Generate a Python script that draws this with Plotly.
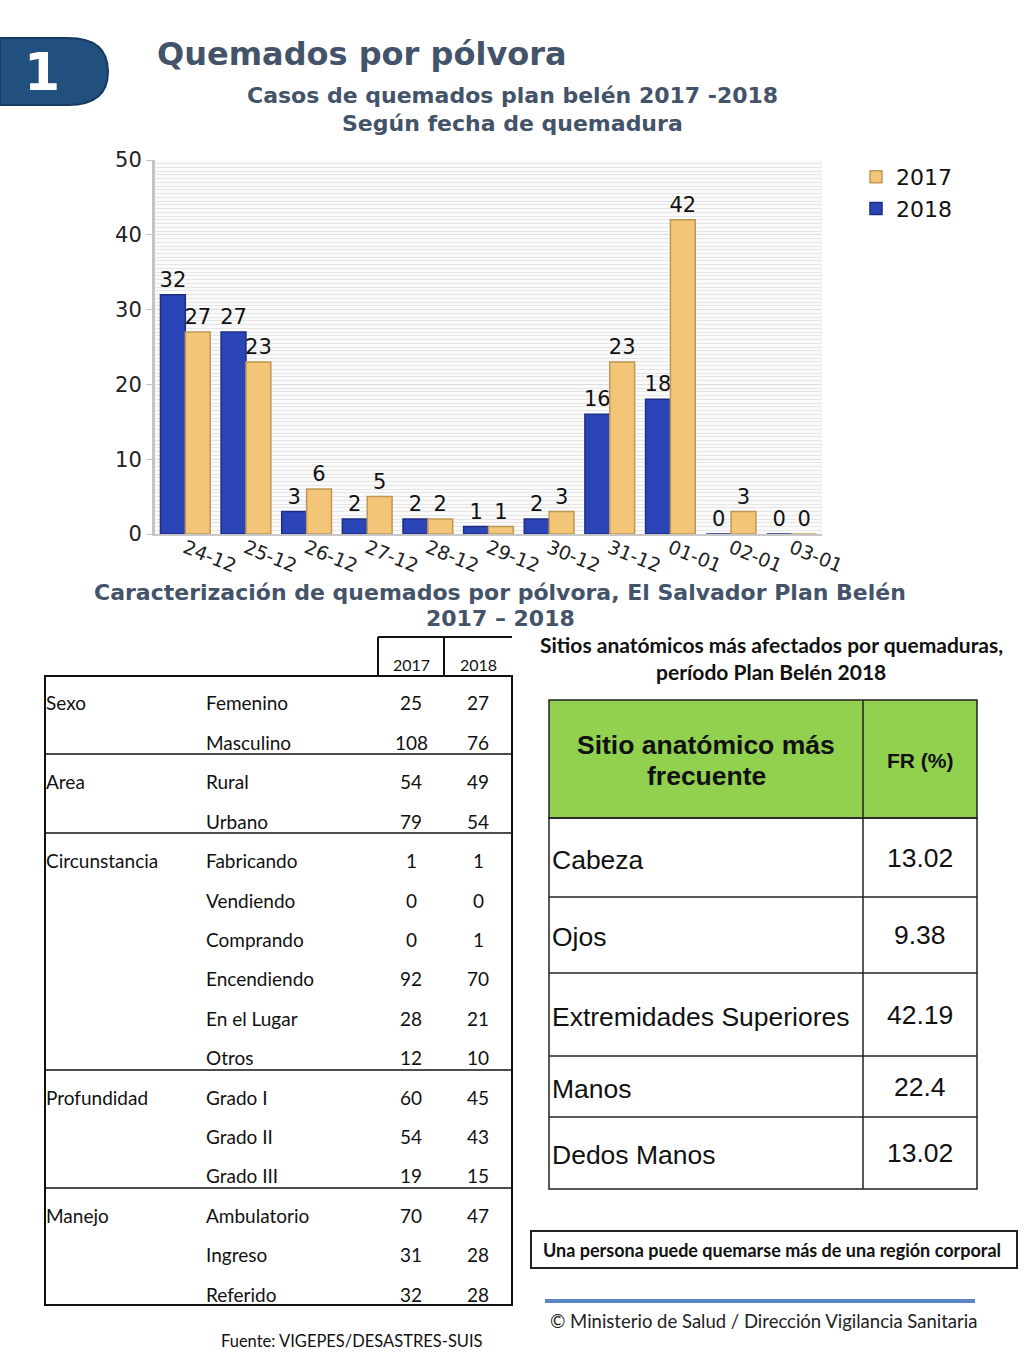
import plotly.graph_objects as go

# ---------------- data ----------------
fechas = ["24-12", "25-12", "26-12", "27-12", "28-12", "29-12", "30-12", "31-12", "01-01", "02-01", "03-01"]
casos_2018 = [32, 27, 3, 2, 2, 1, 2, 16, 18, 0, 0]
casos_2017 = [27, 23, 6, 5, 2, 1, 3, 23, 42, 3, 0]

grupos = ["Sexo", "", "Area", "", "Circunstancia", "", "", "", "", "", "Profundidad", "", "", "Manejo", "", ""]
subcategorias = ["Femenino", "Masculino", "Rural", "Urbano", "Fabricando", "Vendiendo", "Comprando",
                 "Encendiendo", "En el Lugar", "Otros", "Grado I", "Grado II", "Grado III",
                 "Ambulatorio", "Ingreso", "Referido"]
tabla_2017 = [25, 108, 54, 79, 1, 0, 0, 92, 28, 12, 60, 54, 19, 70, 31, 32]
tabla_2018 = [27, 76, 49, 54, 1, 0, 1, 70, 21, 10, 45, 43, 15, 47, 28, 28]

sitios = ["Cabeza", "Ojos", "Extremidades Superiores", "Manos", "Dedos Manos"]
fr_pct = ["13.02", "9.38", "42.19", "22.4", "13.02"]

W, H = 1024, 1365


def px(x):
    return x / W


def py(y):
    return 1 - y / H


C_BLUE = "#2b44b6"
C_TAN = "#f2c577"
C_TITLE = "#435369"

fig = go.Figure()
fig.add_trace(go.Bar(
    x=fechas, y=casos_2018, name="2018",
    marker=dict(color=C_BLUE, line=dict(color="#1c2e84", width=1.5)),
    text=casos_2018, textposition="outside", cliponaxis=False, constraintext="none",
    textfont=dict(family="DejaVu Sans", size=21, color="#111"),
))
fig.add_trace(go.Bar(
    x=fechas, y=casos_2017, name="2017",
    marker=dict(color=C_TAN, line=dict(color="#bf9858", width=1.5)),
    text=casos_2017, textposition="outside", cliponaxis=False, constraintext="none",
    textfont=dict(family="DejaVu Sans", size=21, color="#111"),
))

fig.update_layout(
    width=W, height=H, autosize=False,
    margin=dict(l=0, r=0, t=0, b=0, pad=0, autoexpand=False),
    paper_bgcolor="white",
    plot_bgcolor="#fafafa",
    barmode="group",
    bargap=0.18,
    bargroupgap=0.0,
    showlegend=True,
    legend=dict(x=px(856), y=py(156), xanchor="left", yanchor="top",
                traceorder="reversed", font=dict(family="DejaVu Sans", size=22, color="#111"),
                bgcolor="rgba(0,0,0,0)", tracegroupgap=0),
    xaxis=dict(type="category", domain=[px(155), px(822)], tickangle=22, automargin=False,
               tickfont=dict(family="DejaVu Sans", size=19, color="#222"),
               ticklabelstandoff=-6,
               showline=True, linecolor="#c8c8c8", linewidth=2, ticks="",
               showgrid=False),
    yaxis=dict(domain=[py(534), py(160)], range=[0, 50], dtick=10, automargin=False,
               tickfont=dict(family="DejaVu Sans", size=21, color="#222"),
               showline=True, linecolor="#c4c4c4", linewidth=3,
               ticks="outside", ticklen=6, tickcolor="#c4c4c4",
               showgrid=True, gridcolor="#dddddd", gridwidth=1,
               minor=dict(dtick=0.5, showgrid=True, gridcolor="#e6e6e6", gridwidth=1),
               zeroline=False),
)

shapes = []
annotations = []


def text(x, y, s, size, color="#111", family="Lato", xanchor="center", bold=False):
    annotations.append(dict(
        x=px(x), y=py(y), xref="paper", yref="paper", text=(f"<b>{s}</b>" if bold else s),
        showarrow=False, xanchor=xanchor, yanchor="middle",
        font=dict(family=family, size=size, color=color)))


def line(x0, y0, x1, y1, color="#111", width=2):
    shapes.append(dict(type="line", xref="paper", yref="paper",
                       x0=px(x0), y0=py(y0), x1=px(x1), y1=py(y1),
                       line=dict(color=color, width=width)))


def rect(x0, y0, x1, y1, fill="rgba(0,0,0,0)", color="#111", width=2):
    shapes.append(dict(type="rect", xref="paper", yref="paper",
                       x0=px(x0), y0=py(y1), x1=px(x1), y1=py(y0),
                       fillcolor=fill, line=dict(color=color, width=width)))


# ---------- badge ----------
path = (f"M {px(0)},{py(38)} L {px(68)},{py(38)} "
        f"Q {px(108)},{py(38)} {px(108)},{py(71.5)} "
        f"Q {px(108)},{py(105)} {px(68)},{py(105)} "
        f"L {px(0)},{py(105)} Z")
shapes.append(dict(type="path", xref="paper", yref="paper", path=path,
                   fillcolor="#22507e", line=dict(color="#163b60", width=2)))
text(42, 72, "1", 52, color="white", family="DejaVu Sans", bold=True)

# ---------- titles ----------
text(155, 54, "Quemados por pólvora", 32, color=C_TITLE, family="DejaVu Sans", xanchor="left", bold=True)
text(512, 96, "Casos de quemados plan belén 2017 -2018", 22, color=C_TITLE, family="DejaVu Sans", bold=True)
text(512, 123, "Según fecha de quemadura", 22, color=C_TITLE, family="DejaVu Sans", bold=True)
text(500, 592, "Caracterización de quemados por pólvora, El Salvador Plan Belén", 22,
     color=C_TITLE, family="DejaVu Sans", bold=True)
text(500, 619, "2017 – 2018", 22, color=C_TITLE, family="DejaVu Sans", bold=True)

# ---------- left table ----------
line(378, 637, 512, 637)
line(378, 637, 378, 676)
line(444, 637, 444, 676)
text(411, 664, "2017", 16, family="Lato")
text(478, 664, "2018", 16, family="Lato")
rect(45, 676, 512, 1305)
for ysep in [754, 833, 1070, 1188]:
    line(45, ysep, 512, ysep, width=1.5)

row_y0, row_dy = 703, 39.4
for i, (g, s, a, b) in enumerate(zip(grupos, subcategorias, tabla_2017, tabla_2018)):
    y = row_y0 + i * row_dy
    if g:
        text(44, y, g, 19, xanchor="left")
    text(204, y, s, 19, xanchor="left")
    text(411, y, str(a), 19)
    text(478, y, str(b), 19)

text(352, 1341, "Fuente: VIGEPES/DESASTRES-SUIS", 16.5, family="Lato")

# ---------- right table ----------
text(771, 644, "Sitios anatómicos más afectados por quemaduras,", 21, family="Lato", bold=True)
text(771, 671, "período Plan Belén 2018", 21, family="Lato", bold=True)

rect(549, 700, 977, 818, fill="#92d050", color="#222", width=1.5)
line(863, 700, 863, 1189, color="#222", width=1.5)
text(706, 745, "Sitio anatómico más", 26.5, family="Liberation Sans", bold=True)
text(706, 776, "frecuente", 26.5, family="Liberation Sans", bold=True)
text(920, 760, "FR (%)", 21, family="Liberation Sans", bold=True)

bounds = [818, 897, 973, 1056, 1117, 1189]
rect(549, 818, 977, 1189, color="#222", width=1.5)
for yb in bounds[1:-1]:
    line(549, yb, 977, yb, color="#222", width=1.5)
for i, (s, v) in enumerate(zip(sitios, fr_pct)):
    yc = (bounds[i] + bounds[i + 1]) / 2 + 2
    text(550, yc, s, 26.5, family="Liberation Sans", xanchor="left")
    text(920, yc - 2, v, 26.5, family="Liberation Sans")

# note box
rect(531, 1231, 1017, 1268, color="#222", width=2)
text(772, 1250, "Una persona puede quemarse más de una región corporal", 18, family="Lato", bold=True)

# footer
line(545, 1301, 975, 1301, color="#5b86c4", width=4)
text(548, 1321, "© Ministerio de Salud / Dirección Vigilancia Sanitaria", 18.5, family="Lato", xanchor="left", color="#222")

fig.update_layout(shapes=shapes, annotations=annotations)
fig.write_html("out.html", config={"displayModeBar": False},
               post_script="document.body.style.margin='0';document.body.style.overflow='hidden';")
